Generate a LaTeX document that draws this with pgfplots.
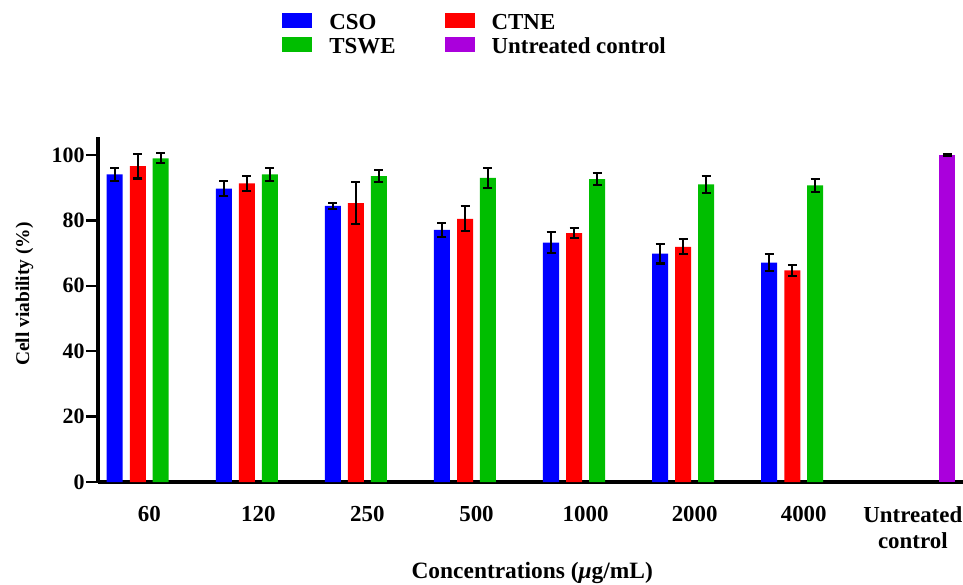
\documentclass[border=0pt]{standalone}
\usepackage{fontspec}
\setmainfont{Liberation Serif}
\usepackage{pgfplots}
\usepackage{pgfplotstable}
\pgfplotsset{compat=1.18}
\definecolor{cso}{RGB}{0,0,255}
\definecolor{ctne}{RGB}{255,0,0}
\definecolor{tswe}{RGB}{0,190,0}
\definecolor{ctrl}{RGB}{170,0,220}
\pgfplotstableread{
x y e
0 94.1 2.0
1 89.7 2.3
2 84.4 0.9
3 77.1 2.1
4 73.2 3.2
5 69.8 3.0
6 67.1 2.5
}\csodata
\pgfplotstableread{
x y e
0 96.6 3.8
1 91.3 2.3
2 85.3 6.5
3 80.5 3.8
4 76.1 1.6
5 71.9 2.3
6 64.7 1.6
}\ctnedata
\pgfplotstableread{
x y e
0 99.0 1.5
1 94.1 2.0
2 93.5 1.8
3 93.0 3.0
4 92.6 1.8
5 91.0 2.6
6 90.7 1.9
}\tswedata
\pgfplotstableread{
x y e
7 100.0 0.3
}\ctrldata
\begin{document}
\begin{tikzpicture}
\begin{axis}[
  scale only axis, width=865bp, height=345bp,
  at={(0,0)}, anchor=south west,
  xmin=-0.47, xmax=7.46, ymin=0, ymax=105.5,
  axis lines*=left,
  axis line style={line width=3.5bp, -},
  xtick={0,...,7},
  xticklabels={60,120,250,500,1000,2000,4000,{Untreated\\control}},
  x tick style={draw=none},
  xticklabel style={align=center, font=\fontsize{23}{26}\selectfont\bfseries, yshift=-9bp},
  ytick={0,20,...,100},
  y tick style={line width=2.5bp, black},
  major tick length=12bp, tick align=outside,
  yticklabel style={font=\fontsize{22}{24}\selectfont\bfseries, xshift=2bp},
  /pgf/number format/assume math mode=true,
  ylabel={Cell viability (\%)},
  ylabel style={at={(axis description cs:-0.085,0.545)}, anchor=center, font=\fontsize{19.5}{22}\selectfont\bfseries},
  xlabel={Concentrations (\textit{μ}g/mL)},
  xlabel style={at={(axis description cs:0.502,-0.264)}, anchor=center, font=\fontsize{23.5}{26}\selectfont\bfseries},
  legend columns=2,
  legend style={at={(axis description cs:0.213,1.36)}, anchor=north west, draw=none, fill=none,
    font=\fontsize{23}{24}\selectfont\bfseries, inner sep=0pt,
    column sep=16bp, row sep=1bp,
    nodes={inner sep=1bp, text height=16bp, text depth=5bp},
    /tikz/every even column/.append style={column sep=48bp}},
  legend image code/.code={\fill[#1] (0bp,-4bp) rectangle (30bp,11bp);},
  legend cell align=left,
  error bars/error bar style={line width=2.2bp, black},
  error bars/error mark options={rotate=90, mark size=4.5bp, line width=2.2bp, black},
]
\addplot[ybar, bar width=0.147, bar shift=0, fill=cso, draw=none,
  error bars/.cd, y dir=both, y explicit] table[x expr=\thisrow{x}-0.317, y=y, y error=e] {\csodata};
\addlegendentry{CSO}
\addplot[ybar, bar width=0.147, bar shift=0, fill=ctne, draw=none,
  error bars/.cd, y dir=both, y explicit] table[x expr=\thisrow{x}-0.105, y=y, y error=e] {\ctnedata};
\addlegendentry{CTNE}
\addplot[ybar, bar width=0.147, bar shift=0, fill=tswe, draw=none,
  error bars/.cd, y dir=both, y explicit] table[x expr=\thisrow{x}+0.105, y=y, y error=e] {\tswedata};
\addlegendentry{TSWE}
\addplot[ybar, bar width=0.147, bar shift=0, fill=ctrl, draw=none,
  error bars/.cd, y dir=both, y explicit] table[x expr=\thisrow{x}+0.317, y=y, y error=e] {\ctrldata};
\addlegendentry{Untreated control}
\end{axis}
\pgfresetboundingbox
\path (-98bp,-103bp) rectangle (865bp,482bp);
\end{tikzpicture}
\end{document}
